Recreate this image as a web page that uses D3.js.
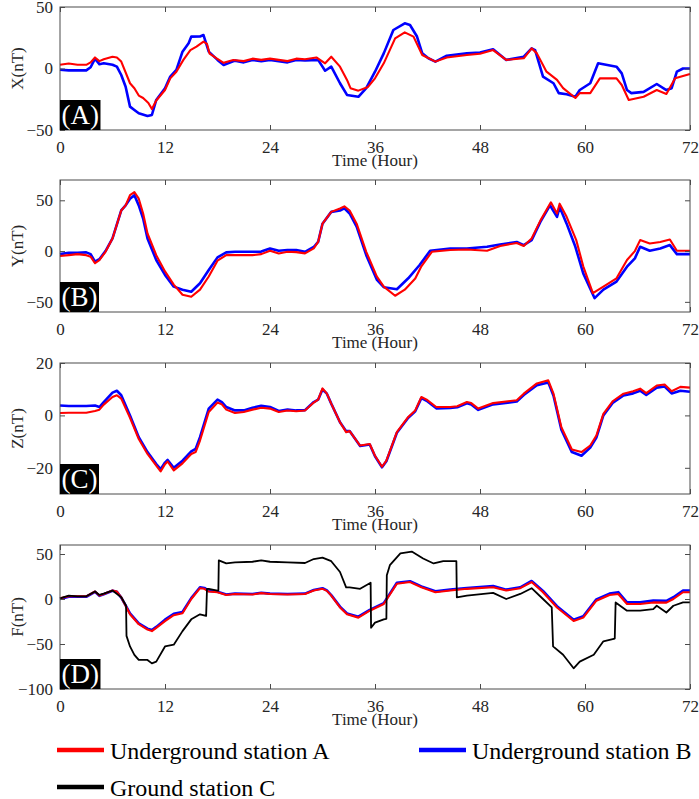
<!DOCTYPE html>
<html>
<head>
<meta charset="utf-8">
<script src="https://cdn.jsdelivr.net/npm/d3@7"></script>
<style>
  body { margin: 0; background: #fff; }
  svg { display: block; }
  text { font-family: "Liberation Serif", "Times New Roman", serif; }
</style>
</head>
<body>
<div id="chart"></div>
<script>
// Time axis ticks (hours)
const hourTicks = [0, 12, 24, 36, 48, 60, 72];

// Panel (A) X component, [hour, nT]
const xRed = [[0,3],[1,4],[2,3],[3,3],[3.5,5],[4,9],[4.5,6],[5,7.5],[6,9.6],[6.5,9],[7,5.6],[8,-12],[8.5,-16],[9,-22],[9.5,-24],[10.1,-28],[10.5,-33],[11,-26],[12,-17.5],[12.6,-8],[13.3,-2.6],[14.1,7],[14.9,15],[15.6,17.8],[16.4,21.8],[16.8,20],[17.1,12],[17.9,8.2],[18.7,4.6],[19.8,6.9],[21,6],[22,8],[23,7],[24,8],[25,7],[26,6],[27,8],[28,7.5],[29.3,9],[30.3,4.2],[31,9.6],[32,1.5],[32.8,-9.3],[33.2,-16],[34.1,-18],[35.2,-15],[36,-8],[37,4.2],[38.3,24.5],[39.4,29.4],[40.4,25.9],[41.4,11],[42.9,5.6],[44.2,9],[46.5,11],[48,12],[49.5,15],[51,7],[53,8.3],[53.9,16.4],[54.5,12.3],[55.6,-2.6],[56.8,-9.3],[57.5,-16],[58.9,-24],[59.4,-20],[60.6,-20],[61.7,-8],[63.6,-8],[64.2,-13.4],[65,-25.6],[66.7,-23],[68.2,-17.5],[69.3,-20.7],[70.3,-8],[72,-4.5]];
const xBlue = [[0,-1],[1,-1.5],[2,-1.5],[3,-1.5],[3.5,1],[4,8],[4.5,3.5],[5,4.2],[6,3],[6.5,1.5],[7,-5.3],[7.5,-14.8],[8,-31],[8.5,-33.7],[9,-36.4],[10,-38.6],[10.5,-37.8],[11,-25.6],[12,-16],[12.6,-6.6],[13.3,-1.2],[14,13.7],[14.7,20.5],[15,25.9],[16,26],[16.4,27.2],[17,13.7],[18,7],[18.7,2.8],[20,6.4],[21,5],[22,7],[23,6],[24,7],[25,6],[26,5],[27,7],[28,6.5],[29.5,7],[30.3,-1.8],[31,1.5],[32,-12],[32.8,-21.5],[34.1,-23],[35,-16],[36,-2.6],[37,12.3],[38.1,31.3],[39.4,36.7],[40,35.4],[40.8,26],[41.4,12.3],[42.1,8.3],[42.9,5.6],[44.2,10.4],[46.5,12.3],[48,13],[49.5,15.6],[51,7],[53,9.6],[53.9,16.4],[54.3,15],[55.2,-6.6],[56.4,-12],[57,-20],[57.9,-21],[58.9,-23],[59.4,-17.5],[60.6,-12],[61.5,4.2],[63.6,1.5],[64.2,-4],[64.8,-17.5],[65.3,-20],[66.7,-19],[68.2,-12.6],[69.3,-17.5],[69.9,-16],[70.5,-2.6],[71.2,0],[72,0]];

// Panel (B) Y component
const yRed = [[0,-4.9],[1,-4],[2,-3],[3,-4],[3.5,-5.5],[4,-12],[4.5,-9],[5.2,-0.7],[6,12.4],[7,40],[7.5,45],[8,55],[8.5,58],[9,51.6],[9.5,37],[10,17.3],[11,-4],[12,-20],[13,-33],[14,-43],[15,-45],[16,-38],[17,-25],[18,-9.5],[19,-4],[20,-4],[21,-4],[22,-4],[23,-3],[24,0.3],[25,-2.3],[26,-0.7],[27,-1],[28,-2.3],[29,2.6],[29.5,9],[30,27],[31,38.6],[32,42],[32.5,44],[33.1,40],[33.9,27],[35,-0.7],[36.2,-25],[37,-35],[38.3,-44],[39.4,-38],[40.6,-27],[41.3,-15],[42.5,-0.7],[44.6,1],[46.5,1.6],[48.8,0.3],[50.3,5],[52.2,8],[53,5],[53.9,12.4],[54.9,30],[56.1,48],[56.8,37],[57.1,46.7],[57.9,33.7],[59,10.8],[59.8,-15],[60.9,-41.5],[62.1,-35],[63.6,-26.8],[64.8,-8.8],[65.7,0],[66.3,10.8],[67.4,7.5],[68.6,9],[69.7,11.4],[70.5,0.3],[72,0.3]];
const yBlue = [[0,-3],[1,-1.6],[2,-1.6],[3,-1.3],[3.5,-3],[4,-10.5],[4.5,-8],[5.2,0],[6,12.4],[7,40],[7.5,45],[8,51.6],[8.5,55],[9,45],[9.5,32],[10,12.4],[11,-8.8],[12,-23.5],[13,-35],[14,-38],[15,-40],[16,-31.7],[17,-18.6],[18,-6.2],[19,-1.3],[20,-0.7],[21,-0.7],[22,-0.7],[23,-0.5],[24,2.6],[25,0.3],[26,1],[27,1],[28,-0.7],[29,4],[29.5,9],[30,27],[31,38.6],[32,40],[32.5,42],[33.1,37],[33.9,24],[35,-4],[36.2,-28],[37,-35.6],[38.5,-37.6],[39.8,-26.8],[41.1,-13.7],[42.3,0.3],[44.6,2.6],[46.5,2.6],[48.8,4.2],[50.3,6.5],[52.2,9],[53,5.9],[53.9,10.8],[54.9,28.8],[56,45],[56.8,33.7],[57.1,43.5],[57.9,27],[58.9,4.2],[59.8,-22],[61.1,-46.4],[62.1,-38],[63.6,-30],[64.8,-15.4],[65.7,-7.2],[66.3,4.2],[67.4,0.3],[68.6,2.6],[69.7,5.9],[70.5,-3],[72,-3]];

// Panel (C) Z component
const zRed = [[0,0.9],[1,1],[2,1],[3,1],[4,1.7],[4.5,2.2],[5,4.1],[6,7],[6.5,7.7],[7,6.4],[8,-0.9],[9,-9],[10,-14.7],[11,-19.2],[11.5,-21.4],[12,-18.6],[12.3,-17.6],[13,-21],[14,-18.3],[15,-14.7],[15.5,-14],[16,-9.6],[17,1.3],[18,4.9],[18.5,4.2],[19,2.2],[20,0.9],[21,1.3],[22,2.2],[23,2.9],[24,2.6],[25,1.3],[26,1.9],[27,1.6],[28,1.9],[29,4.9],[29.5,6],[30,10.3],[30.5,8.3],[31,4.5],[32,-2.6],[32.7,-6.4],[33.1,-6],[34.3,-11.5],[35.4,-10.9],[36,-15.4],[36.8,-19.6],[37.3,-17.3],[38.5,-6.4],[39.8,-0.6],[40.6,1.9],[41.3,7],[41.9,6],[43,3.2],[44.6,3.2],[45.4,3.5],[46.5,5.1],[47,4.7],[47.8,2.6],[49.5,4.7],[52.2,5.8],[53,8.3],[54.5,12.2],[55.8,13.4],[56.4,8.3],[57.3,-4.5],[58.5,-13],[59.6,-14],[60.6,-11.5],[61.3,-7.7],[62.1,0.6],[63.2,5.5],[64.4,8.3],[65.5,9.2],[66.3,10.2],[67,8.5],[68.2,11.4],[69.1,11.8],[69.9,9.2],[70.9,10.9],[72,10.6]];
const zBlue = [[0,3.8],[1,3.6],[2,3.6],[3,3.6],[4,3.8],[4.5,3.2],[5,5.1],[6,8.7],[6.5,9.4],[7,7.7],[8,0],[9,-8.3],[10,-14],[11,-18.6],[11.5,-20.5],[12,-18],[12.3,-17],[13,-20],[14,-17.3],[15,-13.7],[15.5,-12.8],[16,-8.3],[17,2.6],[18,6],[18.5,5.1],[19,3.2],[20,1.9],[21,1.9],[22,2.9],[23,3.7],[24,3.2],[25,1.7],[26,2.2],[27,1.9],[28,2],[29,5.1],[29.5,6],[30,9.9],[30.5,8.3],[31,4.5],[32,-2.6],[32.7,-6],[33.1,-6],[34.3,-11.7],[35.4,-11.1],[36,-15.6],[36.8,-19.8],[37.3,-17.5],[38.5,-6.6],[39.8,-0.9],[40.6,1.6],[41.3,6.6],[41.9,5.6],[43,2.7],[44.6,2.8],[45.4,3.1],[46.5,4.6],[47,4.2],[47.8,2.1],[49.5,4.2],[52.2,5.3],[53,7.8],[54.5,11.5],[55.8,12.6],[56.4,7.5],[57.3,-5.5],[58.5,-14],[59.6,-15.4],[60.6,-12.3],[61.3,-8.5],[62.1,0],[63.2,4.9],[64.4,7.6],[65.5,8.4],[66.3,9.4],[67,7.8],[68.2,10.6],[69.1,11],[69.9,8.4],[70.9,9.4],[72,9]];

// Panel (D) total field F
const fRed = [[0,0.8],[1,3],[2,3],[3,3],[4,8.3],[4.5,3.8],[5,5.6],[6,9.4],[6.5,8.3],[7,1.9],[7.5,-7.5],[8,-17],[9,-28],[10,-34],[10.5,-35.7],[11,-32],[12,-24.5],[13,-18],[14,-15.8],[15,0],[16,12],[16.5,11.3],[17,8.3],[18,7.5],[19,4.5],[20,5.6],[22,5],[23,6.5],[24,5.6],[26,5],[28,5.6],[29,9.4],[30,11.3],[30.5,9],[31,3.8],[32,-9.4],[32.8,-17],[34.1,-20.7],[35.4,-13],[37,-5.6],[38.5,17],[40,18.8],[41.3,13],[42.9,7.5],[44.6,9.4],[46.5,11.3],[49.5,13],[51,9.4],[52.6,12],[53.9,18.8],[55.2,7.5],[56.8,-9.4],[58.7,-24.5],[59.8,-20.7],[61.3,-1.9],[62.8,4.5],[63.8,5.6],[64.8,-5.6],[66.3,-5.6],[67.8,-3.8],[69.3,-4],[70.1,0],[71.2,7.5],[72,7.5]];
const fBlue = [[0,0],[1,2.5],[2,2.5],[3,2.5],[4,8],[4.5,3.5],[5,5.3],[6,9.2],[6.5,8],[7,1.5],[7.5,-7],[8,-16],[9,-27],[10,-33],[10.5,-34.5],[11,-31],[12,-23],[13,-16.5],[14,-14.5],[15,1],[16,13],[16.5,12.3],[17,9],[18,8],[19,5],[20,6],[22,5.5],[23,7],[24,6],[26,5.5],[28,6],[29,10],[30,12],[30.5,9.5],[31,4.3],[32,-8.5],[32.8,-16],[34.1,-19.7],[35.4,-12],[37,-4.6],[38.5,18],[40,19.8],[41.3,14],[42.9,8.5],[44.6,10.4],[46.5,12.3],[49.5,14.5],[51,10.4],[52.6,13],[53.9,20],[55.2,9],[56.8,-8],[58.7,-23],[59.8,-19.2],[61.3,-0.4],[62.8,6],[63.8,7.6],[64.8,-3.6],[66.3,-3.6],[67.8,-1.8],[69.3,-2],[70.1,2],[71.2,9.5],[72,9.5]];
const fBlack = [[0,0.8],[1,3.8],[2,3],[3,3],[4,8.3],[4.5,4.5],[5,6],[6,9.4],[7,1.9],[7.55,-7.5],[7.6,-41],[8,-52.7],[8.5,-62],[9,-67.7],[10,-67.7],[10.5,-71.5],[11,-69.6],[12,-52.7],[13,-50.8],[14,-35.7],[15,-22.6],[16,-17],[16.7,-18.8],[16.8,11.3],[17,11.3],[18,9.4],[18.1,9.4],[18.15,43],[19,39.5],[20,40.6],[22,41.4],[23,43],[24,41.4],[26,40.6],[28,40],[29,44.4],[30,46],[31,42],[32,30],[32.7,13],[33.1,13],[34.3,11.3],[35.5,18],[35.55,-32],[36,-26.3],[37,-22.6],[37.3,-22],[37.35,26.3],[37.7,37.6],[38.9,50.8],[40.2,52.7],[41.5,45],[42.7,39.5],[43.8,42],[45.3,42],[45.35,1.9],[46.5,3.8],[48.4,5.6],[49.5,6.8],[51,0],[52.6,5.6],[53.9,12],[55.2,0],[56.2,-9.4],[56.35,-52.7],[57.5,-62],[58.7,-77],[59.4,-69.6],[61,-62],[62.1,-47],[63.4,-44],[63.5,-3.8],[64.8,-13],[66.3,-13],[67.8,-11.3],[68.2,-7.5],[69.3,-15],[70.1,-7.5],[71.2,-3.8],[72,-3.8]];

const legendNames = ["Underground station A", "Underground station B", "Ground station C"];
const colors = { red: "#ff0000", blue: "#0000ff", black: "#000000" };

const panels = [
  { tag: "(A)", label: "X(nT)", domain: [-50, 50], ticks: [-50, 0, 50], top: 7, bottom: 130, series: [["blue", xBlue], ["red", xRed]] },
  { tag: "(B)", label: "Y(nT)", domain: [-60, 70], ticks: [-50, 0, 50], top: 180, bottom: 312, series: [["blue", yBlue], ["red", yRed]] },
  { tag: "(C)", label: "Z(nT)", domain: [-30, 20], ticks: [-20, 0, 20], top: 363, bottom: 494, series: [["blue", zBlue], ["red", zRed]] },
  { tag: "(D)", label: "F(nT)", domain: [-100, 60], ticks: [-100, -50, 0, 50], top: 545, bottom: 689, series: [["blue", fBlue], ["red", fRed], ["black", fBlack]] }
];

const W = 699, H = 799;
const left = 60, right = 690;
const axisColor = "#4a4a4a", textColor = "#262626";

const svg = d3.select("#chart").append("svg")
  .attr("width", W)
  .attr("height", H);

const x = d3.scaleLinear().domain([0, 72]).range([left, right]);

panels.forEach(p => {
  const y = d3.scaleLinear().domain(p.domain).range([p.bottom, p.top]);
  const g = svg.append("g");

  // data lines
  const line = d3.line().x(d => x(d[0])).y(d => y(d[1]));
  p.series.forEach(([c, data]) => {
    g.append("path")
      .datum(data)
      .attr("fill", "none")
      .attr("stroke", colors[c])
      .attr("stroke-width", c === "blue" ? 2.6 : (c === "red" ? 2.1 : 1.8))
      .attr("stroke-linejoin", "round")
      .attr("d", line);
  });

  // axes: inward ticks on all four sides
  const bottomAxis = g.append("g")
    .attr("transform", `translate(0,${p.bottom})`)
    .call(d3.axisBottom(x).tickValues(hourTicks).tickSizeInner(-5).tickSizeOuter(0).tickPadding(10.5));
  g.append("g")
    .attr("transform", `translate(0,${p.top})`)
    .call(d3.axisTop(x).tickValues(hourTicks).tickSizeInner(-5).tickSizeOuter(0).tickFormat(""));
  const leftAxis = g.append("g")
    .attr("transform", `translate(${left},0)`)
    .call(d3.axisLeft(y).tickValues(p.ticks).tickSizeInner(-5).tickSizeOuter(0).tickPadding(7));
  g.append("g")
    .attr("transform", `translate(${right},0)`)
    .call(d3.axisRight(y).tickValues(p.ticks).tickSizeInner(-5).tickSizeOuter(0).tickFormat(""));

  g.selectAll(".domain").remove();
  g.selectAll(".tick line").attr("stroke", axisColor);
  [bottomAxis, leftAxis].forEach(a => a.selectAll("text")
    .attr("fill", textColor)
    .style("font-size", "17px")
    .style("font-family", "'Liberation Serif', serif"));

  // box
  g.append("rect")
    .attr("x", left).attr("y", p.top)
    .attr("width", right - left).attr("height", p.bottom - p.top)
    .attr("fill", "none").attr("stroke", axisColor).attr("stroke-width", 1);

  // axis titles
  g.append("text")
    .attr("x", x(36)).attr("y", p.bottom + 36)
    .attr("text-anchor", "middle")
    .attr("fill", textColor)
    .style("font-size", "17px")
    .text("Time (Hour)");

  g.append("text")
    .attr("transform", `translate(23,${(p.top + p.bottom) / 2}) rotate(-90)`)
    .attr("text-anchor", "middle")
    .attr("fill", textColor)
    .style("font-size", "17px")
    .text(p.label);

  // panel tag: white text on black box
  const tagG = g.append("g");
  const tagRect = tagG.append("rect").attr("fill", "#000");
  const tagText = tagG.append("text")
    .attr("x", left + 1.5).attr("y", p.bottom - 6)
    .attr("fill", "#fff")
    .style("font-size", "27px")
    .text(p.tag);
  const tw = tagText.node().getComputedTextLength();
  tagRect.attr("x", left).attr("y", p.bottom - 30)
    .attr("width", tw + 3).attr("height", 30);
});

// legend
const legendItems = [
  { name: legendNames[0], color: colors.red, x: 57, y: 750 },
  { name: legendNames[1], color: colors.blue, x: 419, y: 750 },
  { name: legendNames[2], color: colors.black, x: 57, y: 787 }
];
const lg = svg.append("g");
legendItems.forEach(d => {
  lg.append("line")
    .attr("x1", d.x).attr("x2", d.x + 47)
    .attr("y1", d.y).attr("y2", d.y)
    .attr("stroke", d.color).attr("stroke-width", 4.5);
  lg.append("text")
    .attr("x", d.x + 53).attr("y", d.y + 8.5)
    .attr("fill", "#000")
    .style("font-size", "24px")
    .text(d.name);
});
</script>
</body>
</html>
